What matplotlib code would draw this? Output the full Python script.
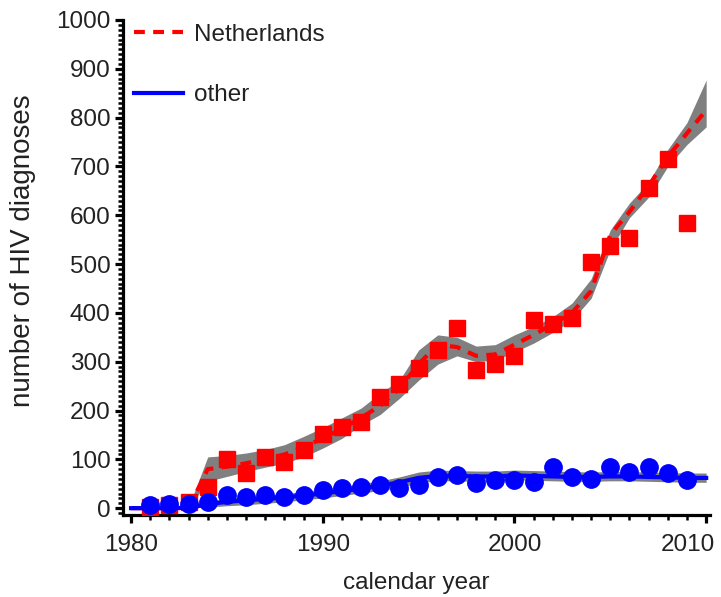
import numpy as np
import matplotlib
matplotlib.use("Agg")
import matplotlib.pyplot as plt
from matplotlib.ticker import MultipleLocator, FuncFormatter
from matplotlib.lines import Line2D

plt.rcParams['font.family'] = ['Liberation Sans', 'DejaVu Sans']

# observed annual diagnoses
obs_years = list(range(1981, 2010))
nl_obs = [3, 6, 12, 43, 100, 72, 104, 94, 119, 151, 166, 176, 227, 254, 288,
          324, 370, 283, 295, 311, 385, 378, 389, 505, 538, 553, 656, 716, 584]
other_obs = [6, 8, 8, 12, 27, 23, 27, 23, 27, 37, 41, 43, 47, 41, 47,
             64, 68, 51, 57, 57, 53, 84, 64, 59, 84, 74, 84, 72, 57]

# model fit with uncertainty band
model_years = list(range(1980, 2011))
nl_fit = [0, 0, 0, 0, 80, 85, 92, 100, 110, 125, 143, 163, 185, 210, 245, 295,
          335, 330, 312, 315, 335, 355, 377, 400, 445, 560, 607, 660, 720, 768, 815]
nl_lo = [0, 0, 0, 0, 55, 65, 75, 84, 92, 105, 123, 143, 170, 192, 225, 262,
         295, 312, 300, 303, 320, 338, 360, 385, 430, 530, 595, 637, 700, 745, 781]
nl_hi = [0, 0, 0, 2, 105, 108, 113, 120, 130, 147, 165, 185, 205, 236, 262, 324,
         355, 350, 332, 335, 355, 372, 392, 420, 470, 570, 625, 668, 735, 790, 877]
other_fit = [0, 0, 0, 1, 8, 13, 16, 19, 22, 26, 30, 35, 40, 46, 53, 62,
             66, 66, 65, 65, 67, 66, 65, 64, 64, 65, 65, 64, 63, 62, 62]
other_lo = [0, 0, 0, 0, 2, 5, 7, 10, 13, 17, 21, 26, 31, 36, 42, 52,
            56, 56, 55, 56, 58, 57, 56, 55, 55, 56, 56, 55, 54, 53, 53]
other_hi = [0, 0, 0, 3, 15, 20, 24, 27, 30, 34, 39, 44, 50, 56, 64, 74,
            78, 77, 76, 76, 78, 77, 76, 75, 74, 75, 75, 74, 73, 72, 72]

x_ticks = [1980, 1990, 2000, 2010]

text_color = '#222222'
fs = 17.5

fig = plt.figure(figsize=(7.21, 5.97), dpi=100)
ax = fig.add_axes([123 / 721, 82 / 597, 587 / 721, 495 / 597])

ax.fill_between(model_years, nl_lo, nl_hi, color='#808080', lw=0, zorder=1)
ax.fill_between(model_years, other_lo, other_hi, color='#808080', lw=0, zorder=1)

ax.plot(obs_years, nl_obs, ls='none', marker='s', ms=11.5, color='#ff0000',
        mec='#ff0000', zorder=3)
ax.plot(model_years, nl_fit, color='#ff0000', lw=3, dashes=(2.6, 2.0), zorder=4)
ax.plot(obs_years, other_obs, ls='none', marker='o', ms=12.5, color='#0000ff',
        mec='#0000ff', zorder=5)
ax.plot(model_years, other_fit, color='#0000ff', lw=3, zorder=6)

ax.set_xlim(1979.58, 2010.2)
ax.set_ylim(-14, 1000)
ax.set_xticks(x_ticks)
ax.xaxis.set_minor_locator(MultipleLocator(1))
ax.yaxis.set_major_locator(MultipleLocator(100))
ax.yaxis.set_minor_locator(MultipleLocator(10))

# the last year label sits flush with the right edge, drawn separately
last_year = x_ticks[-1]
ax.xaxis.set_major_formatter(
    FuncFormatter(lambda v, p: '' if v == last_year else f'{v:.0f}'))

for side in ('top', 'right'):
    ax.spines[side].set_visible(False)
for side in ('left', 'bottom'):
    ax.spines[side].set_linewidth(2.3)
    ax.spines[side].set_color('black')

ax.tick_params(which='major', direction='out', length=6, width=2.3,
               labelsize=fs, labelcolor=text_color, pad=3)
ax.tick_params(axis='x', which='major', pad=8)
ax.tick_params(which='minor', direction='out', length=3.5, width=1.8)

ax.annotate(str(last_year), xy=(last_year, 0), xycoords=ax.get_xaxis_transform(),
            xytext=(9, -19), textcoords='offset pixels', ha='right', va='top',
            fontsize=fs, color=text_color, annotation_clip=False)

ax.set_xlabel('calendar year', fontsize=fs, color=text_color, labelpad=11)
ax.set_ylabel('number of HIV diagnoses', fontsize=20, color=text_color)
ax.yaxis.set_label_coords(-0.148, 0.533)

handles = [Line2D([], [], color='#ff0000', lw=3, dashes=(2.6, 2.0)),
           Line2D([], [], color='#0000ff', lw=3)]
ax.legend(handles, ['Netherlands', 'other'], loc='upper left',
          bbox_to_anchor=(0.019, 0.992), frameon=False, fontsize=fs,
          handlelength=2.0, handletextpad=0.45, labelspacing=1.57,
          borderpad=0.0, borderaxespad=0.0, labelcolor=text_color)

fig.savefig('out.png', dpi=100)
